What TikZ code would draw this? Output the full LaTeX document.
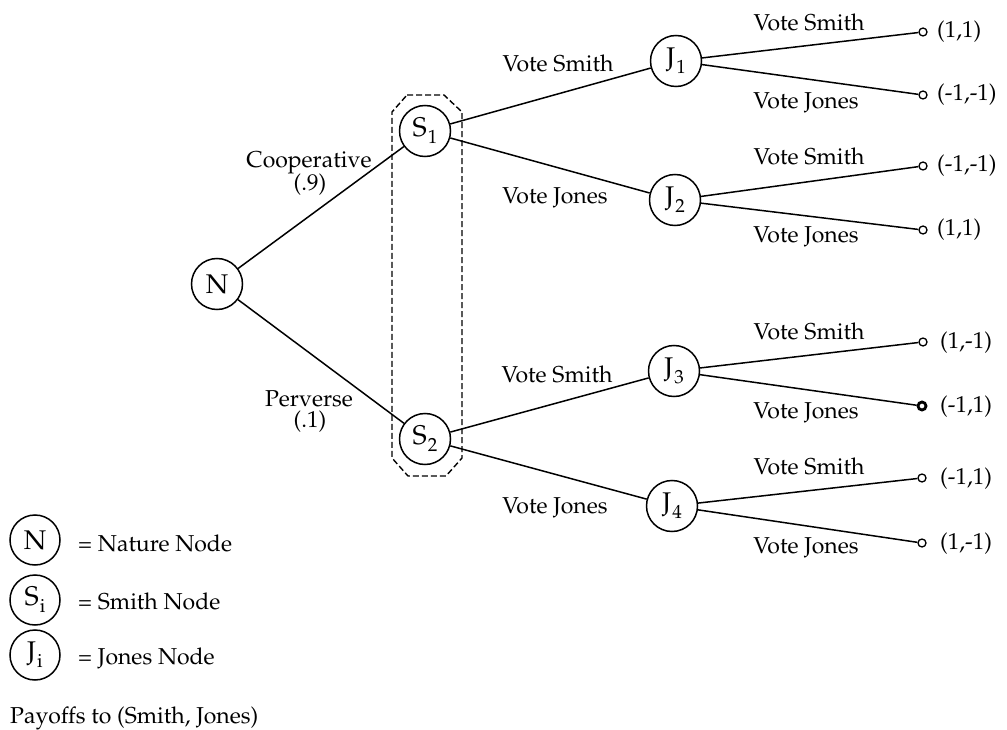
\documentclass[tikz,border=0pt]{standalone}
\usepackage[T1]{fontenc}
\usepackage{mathpazo}
% letter with a large, lowered index, as used inside the tree nodes
\newcommand\nodelabel[2]{#1\kern1pt\raisebox{-7pt}{\fontsize{19}{19}\selectfont #2}}
\begin{document}
\begin{tikzpicture}[x=1pt,y=-1pt,
  every node/.style={font=\fontsize{23}{26}\selectfont},
  dnode/.style={draw,circle,line width=1.5pt,minimum size=51pt,inner sep=0pt,
    font=\fontsize{27}{27}\selectfont},
  term/.style={draw,circle,line width=1.3pt,minimum size=8pt,inner sep=0pt},
  branch/.style={line width=1.5pt},
  lbl/.style={inner sep=0pt,anchor=base},
  pay/.style={anchor=base west,inner sep=0pt},
  infoset/.style={line width=1.4pt,dash pattern=on 6pt off 3pt}]
\useasboundingbox (0,0) rectangle (1007,730);

% decision nodes
\node[dnode] (N)  at (217,284) {N};
\node[dnode] (S1) at (425,131) {\nodelabel{S}{1}};
\node[dnode] (S2) at (425,439) {\nodelabel{S}{2}};
\node[dnode] (J1) at (676,61)  {\nodelabel{J}{1}};
\node[dnode] (J2) at (675,200) {\nodelabel{J}{2}};
\node[dnode] (J3) at (674,371) {\nodelabel{J}{3}};
\node[dnode] (J4) at (672,506) {\nodelabel{J}{4}};

% Smith's information set
\draw[infoset] (407,95) -- (444,95) -- (462,112) -- (462,458) -- (446,476)
  -- (408,476) -- (392,458) -- (392,112) -- cycle;

% terminal nodes
\node[term] (t1) at (923,32)  {};
\node[term] (t2) at (923,95)  {};
\node[term] (t3) at (923,166) {};
\node[term] (t4) at (923,230) {};
\node[term] (t5) at (923,342) {};
\node[term,line width=2.8pt] (t6) at (922,406) {};
\node[term] (t7) at (922,478) {};
\node[term] (t8) at (922,543) {};

% branches
\draw[branch] (N) -- (S1);
\draw[branch] (N) -- (S2);
\draw[branch] (S1) -- (J1);
\draw[branch] (S1) -- (J2);
\draw[branch] (S2) -- (J3);
\draw[branch] (S2) -- (J4);
\draw[branch] (J1) -- (t1);
\draw[branch] (J1) -- (t2);
\draw[branch] (J2) -- (t3);
\draw[branch] (J2) -- (t4);
\draw[branch] (J3) -- (t5);
\draw[branch] (J3) -- (t6);
\draw[branch] (J4) -- (t7);
\draw[branch] (J4) -- (t8);

% branch labels
\node[lbl] (lc)  at (309,168) {Cooperative};
\node[lbl] (lc2) at (310,191) {(.9)};
\node[lbl] (lp)  at (309,406) {Perverse};
\node[lbl] (lp2) at (310,427) {(.1)};
\node[lbl] (a1) at (558,72)  {Vote Smith};
\node[lbl] (a2) at (555,204) {Vote Jones};
\node[lbl] (a3) at (557,382) {Vote Smith};
\node[lbl] (a4) at (555,513) {Vote Jones};
\node[lbl] (b1) at (809,31)  {Vote Smith};
\node[lbl] (b2) at (806,109) {Vote Jones};
\node[lbl] (b3) at (809,165) {Vote Smith};
\node[lbl] (b4) at (806,243) {Vote Jones};
\node[lbl] (b5) at (809,339) {Vote Smith};
\node[lbl] (b6) at (806,418) {Vote Jones};
\node[lbl] (b7) at (809,474) {Vote Smith};
\node[lbl] (b8) at (806,553) {Vote Jones};

% payoffs
\node[pay] (p1) at (937,38)  {(1,1)};
\node[pay] (p2) at (937,101) {(-1,-1)};
\node[pay] (p3) at (937,172) {(-1,-1)};
\node[pay] (p4) at (937,236) {(1,1)};
\node[pay] (p5) at (940,348) {(1,-1)};
\node[pay] (p6) at (940,412) {(-1,1)};
\node[pay] (p7) at (940,484) {(-1,1)};
\node[pay] (p8) at (940,549) {(1,-1)};

% legend
\node[dnode,minimum size=50pt] (kN) at (35,540) {N};
\node[dnode,minimum size=50pt] (kS) at (35,600) {\nodelabel{S}{i}};
\node[dnode,minimum size=50pt] (kJ) at (35,655) {\nodelabel{J}{i}};
\node[pay] (tN) at (78,551) {= Nature Node};
\node[pay] (tS) at (78,609) {= Smith Node};
\node[pay] (tJ) at (78,664) {= Jones Node};
\node[pay] (tP) at (10,723) {Payoffs to (Smith, Jones)};
\end{tikzpicture}
\end{document}
